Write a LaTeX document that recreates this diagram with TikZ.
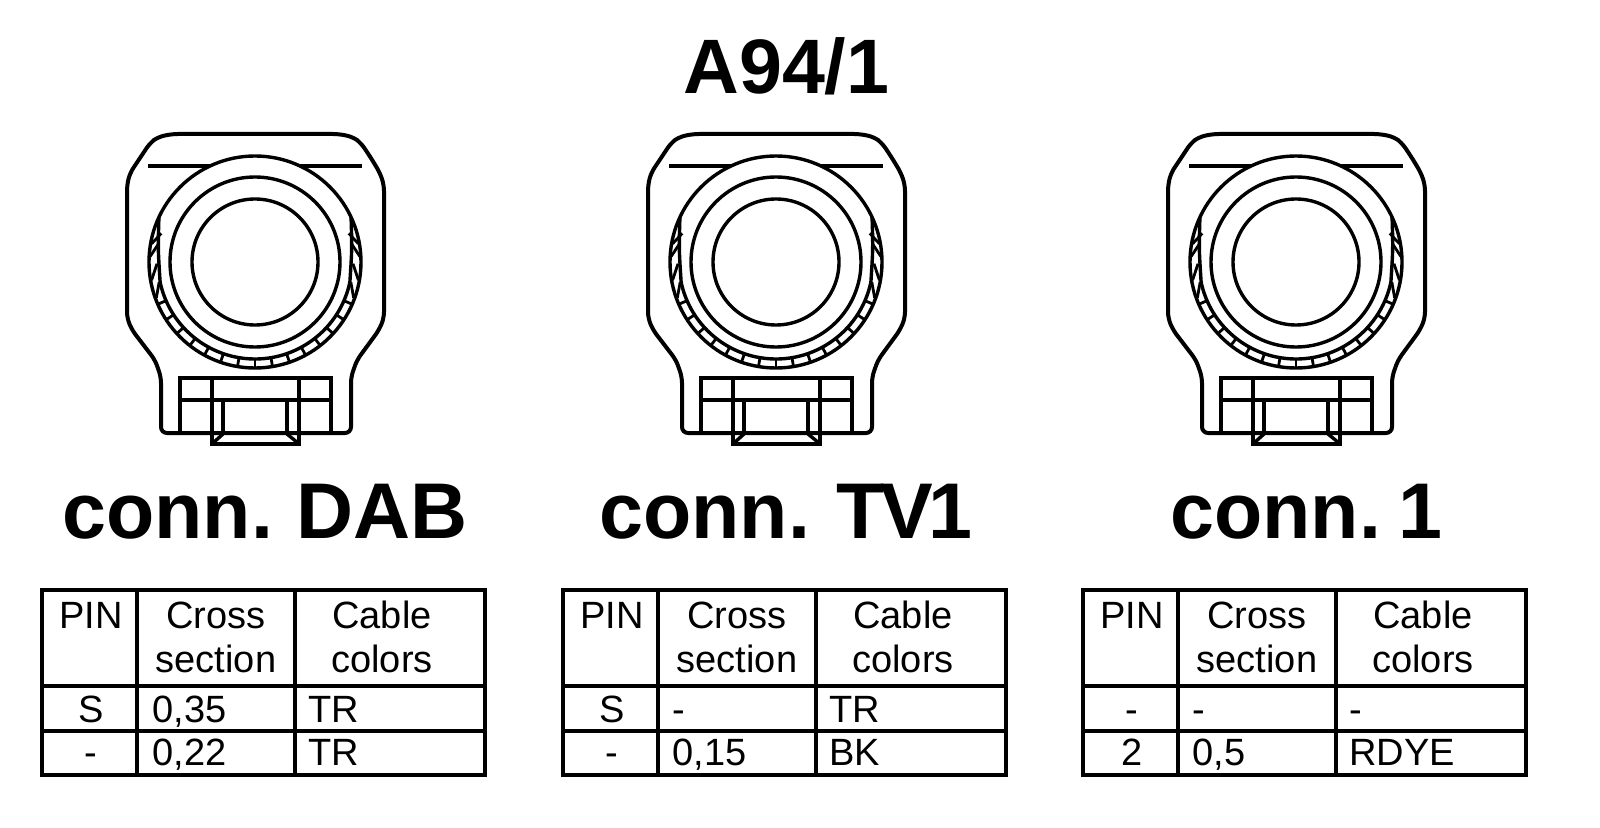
\documentclass[tikz,border=0pt]{standalone}
\usepackage{fontspec}
\setmainfont{Liberation Sans}
\tikzset{
  thick line/.style={line width=2pt,line join=round},
  thin line/.style={line width=1.7pt},
  rib line/.style={line width=1.4pt},
  grid line/.style={line width=2.3pt},
  big text/.style={inner sep=0pt,anchor=base west,font=\bfseries\fontsize{39.5}{40}\selectfont},
  cell text/.style={inner sep=0pt,anchor=base,font=\fontsize{19}{20}\selectfont},
  cell left/.style={cell text,anchor=base west}
}
\begin{document}
\begin{tikzpicture}[x=0.5pt,y=-0.5pt]
  \useasboundingbox (0,0) rectangle (1600,828);
  \fill[white] (0,0) rectangle (1600,828);
% Title
  \node[big text,font=\bfseries\fontsize{38.6}{40}\selectfont] (title) at (683,94) {A94/1};
  \node[big text] (nameA) at (62,538) {conn.\hspace{11.5pt}DAB};
  \node[big text] (nameB) at (599,538) {conn.\hspace{13pt}T\kern-2.2pt V\kern-2.2pt 1};
  \node[big text] (nameC) at (1170,538) {conn.\hspace{8.5pt}1};
% Connector bodies
  \foreach \dx in {0,521,1041} {
    \begin{scope}[xshift=\dx*0.5pt]
      \draw[thick line,rounded corners=3pt] (127,185) -- (127,318) -- (132,330) -- (155,360)
        -- (161,377) -- (161,433) -- (351,433) -- (351,377) -- (357,360)
        -- (379,330) -- (384,318) -- (384,185) -- (380,173) -- (371,158)
        -- (361,143) -- (353,137) -- (339,134) -- (172,134) -- (158,137)
        -- (150,143) -- (140,158) -- (130,173) -- cycle;
      \draw[thick line] (148,166) -- (362,166);
      \begin{scope}[shift={(255,262)}]
        \filldraw[thin line,fill=white] (0,0) circle (106);
        \draw[thin line] (0,0) circle (85);
        \draw[thin line] (0,0) circle (63);
        \draw[thin line] (-25:106) .. controls (-8:98) .. (12:97)
          arc[start angle=12,end angle=168,radius=97] .. controls (188:98) .. (205:106);
        % ribs at the bottom
        \foreach \a in {-7,-6,...,7}
          \draw[rib line] (90+\a*9.5:97) -- (90+\a*9.5:106);
        % slanted ribs at the sides
        \foreach \a/\b in {-10/-17,-3/-11,10/1,20/12,190/197,183/191,170/179,160/168}
          \draw[rib line] (\a:105) -- (\b:98);
      \end{scope}
      % bottom latch
      \draw[thin line] (180,378) rectangle (331,433);
      \draw[thin line] (180,400) -- (331,400);
      \draw[thin line] (212,378) -- (212,444) -- (299,444) -- (299,378);
      \draw[thin line] (223,400) -- (223,433);
      \draw[thin line] (287,400) -- (287,433);
      \draw[thin line] (223,434) -- (213,443);
      \draw[thin line] (287,434) -- (298,443);
    \end{scope}
  }
% Tables
  \foreach \dx in {0,521,1041} {
    \begin{scope}[xshift=\dx*0.5pt]
      \draw[grid line] (42,590) rectangle (485,775);
      \draw[grid line] (137,590) -- (137,775);
      \draw[grid line] (295,590) -- (295,775);
      \draw[grid line] (42,686) -- (485,686);
      \draw[grid line] (42,731) -- (485,731);
      \node[cell text] at (91,628) {PIN};
      \node[cell text] at (216,628) {Cross};
      \node[cell text] at (216,672) {section};
      \node[cell text] at (382,628) {Cable};
      \node[cell text] at (382,672) {colors};
    \end{scope}
  }
% Table rows
  \node[cell text] (pinA) at (91,722) {S};
  \node[cell left] (areaA) at (152,722) {0,35};
  \node[cell left] (colorA) at (308,722) {TR};
  \node[cell text] (pinB) at (91,765) {-};
  \node[cell left] (areaB) at (152,765) {0,22};
  \node[cell left] (colorB) at (308,765) {TR};
  \node[cell text] (pinC) at (612,722) {S};
  \node[cell left] (areaC) at (672,722) {-};
  \node[cell left] (colorC) at (829,722) {TR};
  \node[cell text] (pinD) at (612,765) {-};
  \node[cell left] (areaD) at (672,765) {0,15};
  \node[cell left] (colorD) at (829,765) {BK};
  \node[cell text] (pinE) at (1132,722) {-};
  \node[cell left] (areaE) at (1192,722) {-};
  \node[cell left] (colorE) at (1349,722) {-};
  \node[cell text] (pinF) at (1132,765) {2};
  \node[cell left] (areaF) at (1192,765) {0,5};
  \node[cell left] (colorF) at (1349,765) {RDYE};
\end{tikzpicture}
\end{document}
